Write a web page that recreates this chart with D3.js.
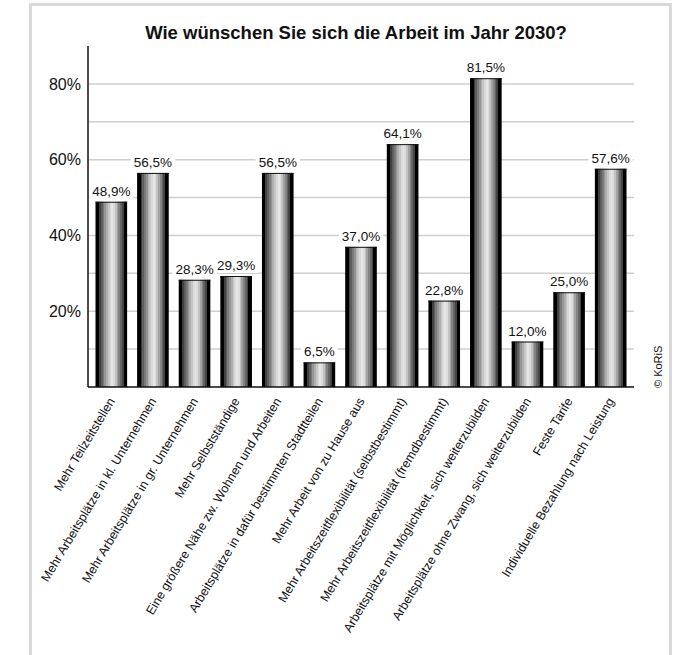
<!DOCTYPE html>
<html>
<head>
<meta charset="utf-8">
<script src="https://cdn.jsdelivr.net/npm/d3@7"></script>
<style>
  body { margin: 0; background: #fff; }
  text { font-family: "Liberation Sans", Arial, sans-serif; }
</style>
</head>
<body>
<svg id="chart"></svg>
<script>
/* chart data */
let categories = [
    "Mehr Teilzeitstellen",
    "Mehr Arbeitsplätze in kl. Unternehmen",
    "Mehr Arbeitsplätze in gr. Unternehmen",
    "Mehr Selbstständige",
    "Eine größere Nähe zw. Wohnen und Arbeiten",
    "Arbeitsplätze in dafür bestimmten Stadtteilen",
    "Mehr Arbeit von zu Hause aus",
    "Mehr Arbeitszeitflexibilität (selbstbestimmt)",
    "Mehr Arbeitszeitflexibilität (fremdbestimmt)",
    "Arbeitsplätze mit Möglichkeit, sich weiterzubilden",
    "Arbeitsplätze ohne Zwang, sich weiterzubilden",
    "Feste Tarife",
    "Individuelle Bezahlung nach Leistung"
];
let values = [48.9, 56.5, 28.3, 29.3, 56.5, 6.5, 37.0, 64.1, 22.8, 81.5, 12.0, 25.0, 57.6];
let yTicks = [20, 40, 60, 80];
let gridTicks = [10, 20, 30, 40, 50, 60, 70, 80];
let yMax = 90;

let title = "Wie wünschen Sie sich die Arbeit im Jahr 2030?";
let credit = "© KoRiS";

// stripe colours of the "cylinder" bars, left to right
let stripes = ["#000", "#000", "#404040", "#5e5e5e", "#7a7a7a", "#959595", "#afafaf",
               "#c6c6c6", "#d9d9d9", "#e6e6e6", "#dcdcdc", "#c2c2c2", "#a2a2a2",
               "#838383", "#646464", "#444", "#000", "#000"];

let W = 681, H = 655;
let svg = d3.select("#chart").attr("width", W).attr("height", H);

// grey frame round everything
svg.append("rect")
    .attr("x", 30.5).attr("y", 4.5)
    .attr("width", 640).attr("height", 680)
    .attr("fill", "#fff")
    .attr("stroke", "#d9d9d9")
    .attr("stroke-width", 3);

let pLeft = 88, pRight = 634, pTop = 46, pBottom = 387;

let x = d3.scaleBand()
    .domain(categories)
    .range([pLeft, pRight])
    .paddingInner(0.24)
    .paddingOuter(0.18);

let y = d3.scaleLinear()
    .domain([0, yMax])
    .range([pBottom, pTop]);

let de = d3.formatLocale({decimal: ",", thousands: ".", grouping: [3], currency: ["", " €"]});
let fmt = v => de.format(".1f")(v) + "%";

// banded gradient
let defs = svg.append("defs");
let grad = defs.append("linearGradient")
    .attr("id", "barGrad")
    .attr("x1", "0").attr("x2", "1").attr("y1", "0").attr("y2", "0");
stripes.forEach((c, i) => {
    grad.append("stop").attr("offset", i / stripes.length).attr("stop-color", c);
    grad.append("stop").attr("offset", (i + 1) / stripes.length).attr("stop-color", c);
});

// gridlines
svg.append("g")
    .selectAll("line")
    .data(gridTicks)
    .join("line")
    .attr("x1", pLeft).attr("x2", pRight)
    .attr("y1", d => y(d)).attr("y2", d => y(d))
    .attr("stroke", "#cfcfcf")
    .attr("stroke-width", 1.5);

// y labels
svg.append("g")
    .selectAll("text")
    .data(yTicks)
    .join("text")
    .attr("x", 81)
    .attr("y", d => y(d))
    .attr("dy", "0.36em")
    .attr("text-anchor", "end")
    .attr("font-size", 16)
    .attr("fill", "#111")
    .text(d => d + "%");

// bars
svg.append("g")
    .selectAll("rect")
    .data(values)
    .join("rect")
    .attr("x", (d, i) => x(categories[i]))
    .attr("y", d => y(d))
    .attr("width", x.bandwidth())
    .attr("height", d => pBottom - y(d))
    .attr("fill", "url(#barGrad)");

// thin dark cap on each bar
svg.append("g")
    .selectAll("line")
    .data(values)
    .join("line")
    .attr("x1", (d, i) => x(categories[i]))
    .attr("x2", (d, i) => x(categories[i]) + x.bandwidth())
    .attr("y1", d => y(d) + 0.5).attr("y2", d => y(d) + 0.5)
    .attr("stroke", "#111");

// value labels with white knockout
let vl = svg.append("g")
    .selectAll("g")
    .data(values)
    .join("g");
let vt = vl.append("text")
    .attr("x", (d, i) => x(categories[i]) + x.bandwidth() / 2)
    .attr("y", d => y(d) - 6)
    .attr("text-anchor", "middle")
    .attr("font-size", 13.5)
    .attr("fill", "#111")
    .text(d => fmt(d));
vt.each(function () {
    let b = this.getBBox();
    d3.select(this.parentNode).insert("rect", "text")
        .attr("x", b.x - 3).attr("y", b.y)
        .attr("width", b.width + 6).attr("height", b.height)
        .attr("fill", "#fff");
});

// axes lines
svg.append("line")
    .attr("x1", pLeft).attr("x2", pLeft)
    .attr("y1", pTop).attr("y2", pBottom)
    .attr("stroke", "#111").attr("stroke-width", 1.5);
svg.append("line")
    .attr("x1", pLeft).attr("x2", pRight)
    .attr("y1", pBottom).attr("y2", pBottom)
    .attr("stroke", "#111").attr("stroke-width", 1.5);

// rotated category labels
svg.append("g")
    .selectAll("text")
    .data(categories)
    .join("text")
    .attr("transform", d => `translate(${x(d) + x.bandwidth() / 2 + 4},${pBottom + 14}) rotate(-59)`)
    .attr("text-anchor", "end")
    .attr("font-size", 12.5)
    .attr("fill", "#111")
    .text(d => d);

// title
svg.append("text")
    .attr("x", 356)
    .attr("y", 39)
    .attr("text-anchor", "middle")
    .attr("font-size", 18.5)
    .attr("font-weight", "bold")
    .attr("fill", "#111")
    .text(title);

// credit
svg.append("text")
    .attr("transform", "translate(662,388) rotate(-90)")
    .attr("font-size", 11)
    .attr("fill", "#111")
    .text(credit);
</script>
</body>
</html>
